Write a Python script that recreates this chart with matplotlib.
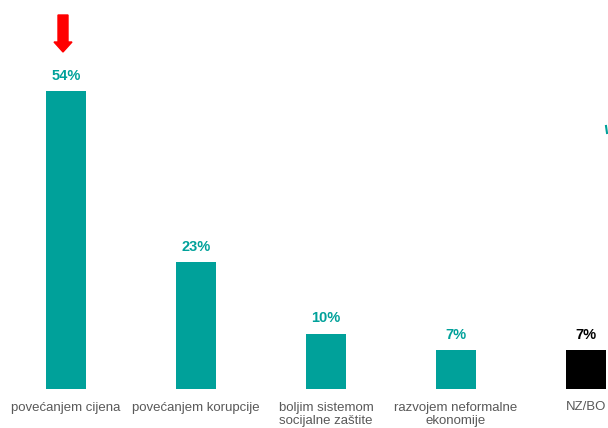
import matplotlib
matplotlib.use("Agg")
import matplotlib.pyplot as plt
from matplotlib.patches import FancyArrow

categories = ["povećanjem cijena", "povećanjem korupcije", "boljim sistemom\nsocijalne zaštite",
              "razvojem neformalne\nekonomije", "NZ/BO"]
values = [54, 23, 10, 7, 7]
labels = ["54%", "23%", "10%", "7%", "7%"]
bar_colors = ["#00A19A", "#00A19A", "#00A19A", "#00A19A", "#000000"]
label_colors = ["#00A19A", "#00A19A", "#00A19A", "#00A19A", "#000000"]

plt.rcParams['font.family'] = ['Liberation Sans', 'DejaVu Sans']

W, H = 608, 428
fig = plt.figure(figsize=(W/100, H/100), dpi=100)
base = 389
ax = fig.add_axes([0, (H-base)/H, 1, base/H])
pxu = 130.0
ax.set_xlim(-66/pxu, (W-66)/pxu)
ax.set_ylim(0, base/5.52)

x = list(range(len(values)))
bars = ax.bar(x, values, width=40/pxu, color=bar_colors)
for b, lab, c in zip(bars, labels, label_colors):
    ax.annotate(lab, (b.get_x()+b.get_width()/2, b.get_height()), xytext=(0, 6),
                textcoords="offset points", ha="center", va="bottom",
                fontsize=10.5, fontweight="bold", color=c)

ax.set_xticks(x)
ax.set_xticklabels(categories, fontsize=9.5, color="#595959", linespacing=1.15)
ax.tick_params(axis="x", length=0, pad=9)
ax.set_yticks([])
for s in ax.spines.values():
    s.set_visible(False)
ax.patch.set_alpha(0)

# red arrow above first bar
fig.patches.append(FancyArrow(63/W, 1-15/H, 0, -(37)/H, width=10/W, head_width=18/W,
                              head_length=10/H, length_includes_head=True,
                              color="#FF0000", transform=fig.transFigure, figure=fig))
# small teal fragment at right edge
fig.lines.append(plt.Line2D([606/W, 607/W], [1-126/H, 1-133/H], color="#00A19A",
                            lw=1.5, transform=fig.transFigure, figure=fig))

fig.savefig("out.png", dpi=100)
